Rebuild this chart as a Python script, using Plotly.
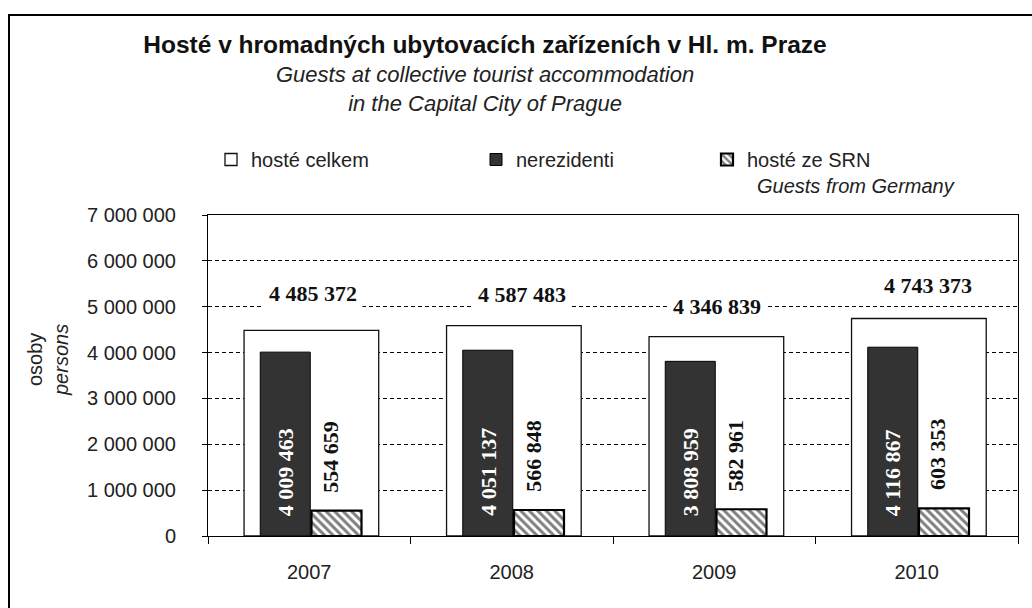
import plotly.graph_objects as go

# ---- data ----
years = ["2007", "2008", "2009", "2010"]
total_guests = [4485372, 4587483, 4346839, 4743373]
nonresidents = [4009463, 4051137, 3808959, 4116867]
germany_guests = [554659, 566848, 582961, 603353]
y_tick_values = [0, 1000000, 2000000, 3000000, 4000000, 5000000, 6000000, 7000000]

title_main = "Hosté v hromadných ubytovacích zařízeních v Hl. m. Praze"
title_sub = ["Guests at collective tourist accommodation", "in the Capital City of Prague"]
name_total = "hosté celkem"
name_nonres = "nerezidenti"
name_germany = "hosté ze SRN<br>\u2002<i>Guests from Germany</i>"
axis_title = "osoby<br><i>persons</i>"


def fmt(v):
    return f"{v:,}".replace(",", " ")


# ---- layout geometry (pixels) ----
W, H = 1032, 608
L, R, T, B = 208, 14, 215, 72
PW, PH = W - L - R, H - T - B


def px_x(X):
    return (X - L) / PW


def px_y(Y):
    return (H - B - Y) / PH


SANS = "Liberation Sans, Arial, sans-serif"
SERIF = "Liberation Serif, Times New Roman, serif"
TXT = "#222222"

fig = go.Figure()
fig.add_trace(go.Bar(
    x=years, y=total_guests, name=name_total, width=0.665, offset=-0.322,
    marker=dict(color="white", line=dict(color="#111111", width=1.3)),
    legend="legend", hoverinfo="skip"))
fig.add_trace(go.Bar(
    x=years, y=nonresidents, name=name_nonres, width=0.247, offset=-0.242,
    marker=dict(color="#333333", line=dict(color="#000000", width=1)),
    legend="legend2", hoverinfo="skip"))
fig.add_trace(go.Bar(
    x=years, y=germany_guests, name=name_germany, width=0.247, offset=0.011,
    marker=dict(color="white", line=dict(color="#000000", width=2.2),
                pattern=dict(shape="\\", fgcolor="#000000", bgcolor="white",
                             size=6, solidity=0.5)),
    legend="legend3", hoverinfo="skip"))

annotations = []
# data labels
tot_xshift = [3.5, 10.5, 3, 11.5]
tot_yshift = [37, 31, 30, 33]
for i in range(len(years)):
    annotations.append(dict(
        x=i, y=total_guests[i], xref="x", yref="y", text="<b>" + fmt(total_guests[i]) + "</b>",
        showarrow=False, xshift=tot_xshift[i], yshift=tot_yshift[i],
        xanchor="center", yanchor="middle", bgcolor="white", borderpad=5,
        font=dict(family=SERIF, size=22, color="#111111")))
    annotations.append(dict(
        x=i, y=0, xref="x", yref="y", text="<b>" + fmt(nonresidents[i]) + "</b>",
        showarrow=False, textangle=-90, xshift=-24, yshift=18,
        yanchor="bottom", xanchor="center",
        font=dict(family=SERIF, size=22, color="white")))
    annotations.append(dict(
        x=i, y=germany_guests[i], xref="x", yref="y", text="<b>" + fmt(germany_guests[i]) + "</b>",
        showarrow=False, textangle=-90, xshift=21, yshift=16,
        yanchor="bottom", xanchor="center",
        font=dict(family=SERIF, size=22, color="#111111")))

annotations.append(dict(
    xref="paper", yref="paper", x=px_x(485), y=px_y(89),
    text="<br>".join("<i>" + s + "</i>" for s in title_sub),
    showarrow=False, xanchor="center", yanchor="middle",
    font=dict(family=SANS, size=22, color=TXT)))
annotations.append(dict(
    xref="paper", yref="paper", x=px_x(48), y=px_y(360), text=axis_title,
    showarrow=False, textangle=-90, xanchor="center", yanchor="middle",
    font=dict(family=SANS, size=20, color=TXT)))

leg_common = dict(xref="container", yref="container", xanchor="left", yanchor="top",
                  bgcolor="rgba(0,0,0,0)", font=dict(family=SANS, size=20, color=TXT),
                  valign="top", itemclick=False, itemdoubleclick=False)

fig.update_layout(
    width=W, height=H,
    margin=dict(l=L, r=R, t=T, b=B, autoexpand=False),
    paper_bgcolor="white", plot_bgcolor="white",
    barmode="overlay",
    title=dict(text="<b>" + title_main + "</b>", xref="container", yref="container",
               x=485 / W, y=1 - 44 / H, xanchor="center", yanchor="middle",
               font=dict(family=SANS, size=24.5, color="#111111")),
    xaxis=dict(type="category", range=[-0.5, 3.5], showline=True, linecolor="black",
               linewidth=1, mirror=True, ticks="outside", tickson="boundaries",
               ticklen=7, tickcolor="black", showgrid=False,
               tickfont=dict(family=SANS, size=20, color=TXT), ticklabelstandoff=18),
    yaxis=dict(range=[0, 7000000], tickvals=y_tick_values,
               ticktext=[fmt(v) for v in y_tick_values],
               showgrid=True, gridcolor="black", gridwidth=1, griddash="4px,3px",
               zeroline=False, showline=True, linecolor="black", linewidth=1, mirror=True,
               ticks="outside", ticklen=5, tickcolor="black",
               tickfont=dict(family=SANS, size=20, color=TXT), ticklabelstandoff=22),
    annotations=annotations,
    shapes=[dict(type="rect", xref="paper", yref="paper",
                 x0=px_x(9), x1=px_x(1045), y0=px_y(625), y1=px_y(15),
                 line=dict(color="black", width=2), fillcolor="rgba(0,0,0,0)")],
    legend=dict(x=211 / W, y=1 - 140 / H, **leg_common),
    legend2=dict(x=476 / W, y=1 - 140 / H, **leg_common),
    legend3=dict(x=707 / W, y=1 - 140 / H, **leg_common),
    showlegend=True,
)

fig.write_html("out.html", config={"displayModeBar": False},
               post_script="document.body.style.margin='0';document.body.style.overflow='hidden';")
